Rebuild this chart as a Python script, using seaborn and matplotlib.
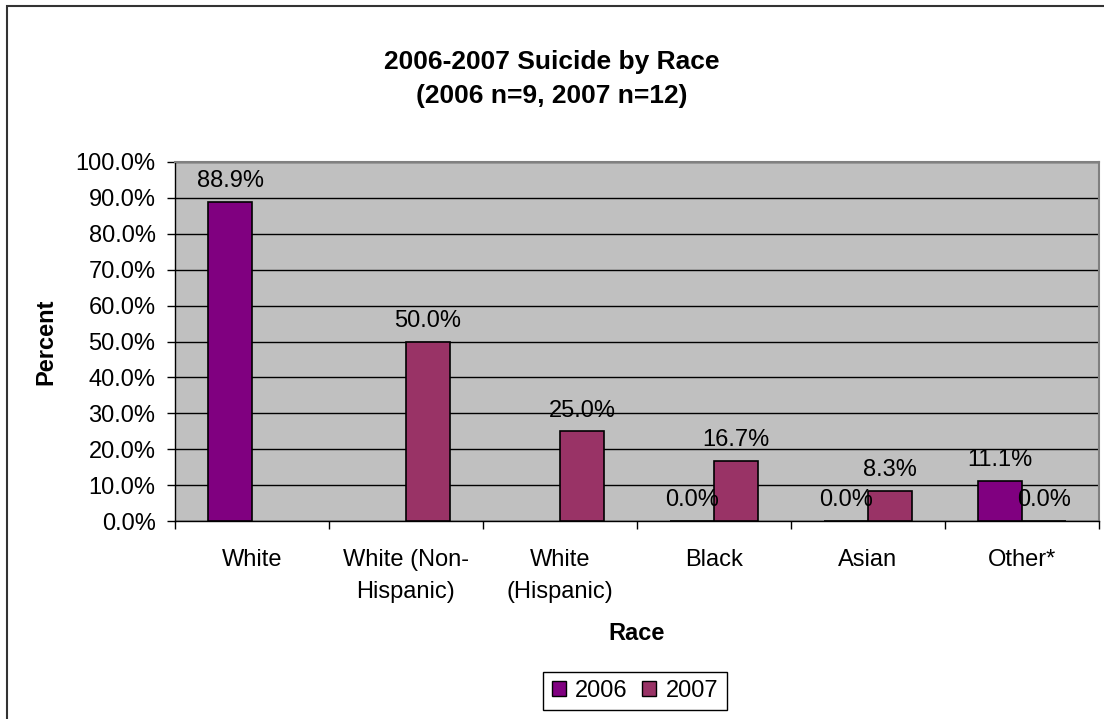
import matplotlib
matplotlib.use("Agg")
import matplotlib.pyplot as plt
import matplotlib.patches as mpatches
from matplotlib.ticker import FixedLocator, FuncFormatter
import seaborn as sns
import pandas as pd

races = ["White", "White (Non-\nHispanic)", "White\n(Hispanic)", "Black", "Asian", "Other*"]
years = ["2006", "2007"]
pct_2006 = [88.9, None, None, 0.0, 0.0, 11.1]
pct_2007 = [None, 50.0, 25.0, 16.7, 8.3, 0.0]
colors = ["#800080", "#993366"]

rows = []
for yr, vals in zip(years, [pct_2006, pct_2007]):
    for r, v in zip(races, vals):
        if v is not None:
            rows.append({"Race": r, "Year": yr, "Percent": v})
df = pd.DataFrame(rows)

sns.set_style("white")
plt.rcParams["font.family"] = ["Liberation Sans", "DejaVu Sans"]
plt.rcParams["text.color"] = "black"
plt.rcParams["axes.labelcolor"] = "black"
plt.rcParams["xtick.color"] = "black"
plt.rcParams["ytick.color"] = "black"

FS = 17
W, H = 1104, 719
fig = plt.figure(figsize=(W / 100, H / 100), dpi=100)
ax = fig.add_axes([175 / W, 1 - 521 / H, (1099 - 175) / W, (521 - 162) / H])

sns.barplot(data=df, x="Race", y="Percent", hue="Year", order=races, hue_order=years,
            palette=colors, saturation=1, width=0.571, edgecolor="black", linewidth=1.2,
            ax=ax, legend=False, zorder=3)

ax.set_facecolor("#C0C0C0")
ax.set_ylim(0, 100)
ax.set_xlim(-0.5, len(races) - 0.5)
ax.yaxis.set_major_locator(FixedLocator([i * 10 for i in range(11)]))
ax.yaxis.set_major_formatter(FuncFormatter(lambda v, p: f"{v:.1f}%"))
ax.grid(axis="y", color="black", linewidth=1, zorder=1)
ax.set_axisbelow(True)

for s in ["top", "right"]:
    ax.spines[s].set_color("#808080")
    ax.spines[s].set_linewidth(1.5)
for s in ["left", "bottom"]:
    ax.spines[s].set_color("black")
    ax.spines[s].set_linewidth(1)

ax.tick_params(axis="y", direction="out", length=6, width=1, color="black",
               labelsize=FS, labelcolor="black", pad=8, left=True)
ax.set_xticks(range(len(races)))
ax.set_xticklabels(races, fontsize=FS, linespacing=1.6, color="black")
ax.tick_params(axis="x", which="major", length=0, pad=20)
ax.xaxis.set_minor_locator(FixedLocator([i + 0.5 for i in range(-1, len(races))]))
ax.tick_params(axis="x", which="minor", direction="out", length=6, width=1,
               color="black", bottom=True)

for cont in ax.containers:
    ax.bar_label(cont, fmt="%.1f%%", padding=7, fontsize=FS, color="black")

ax.set_xlabel("Race", fontsize=FS, fontweight="bold", labelpad=14, color="black")
ax.set_ylabel("Percent", fontsize=FS, fontweight="bold", labelpad=13, color="black")
fig.text(552 / W, 1 - 79 / H, "2006-2007 Suicide by Race\n(2006 n=9, 2007 n=12)",
         fontsize=19, fontweight="bold", ha="center", va="center", linespacing=1.55,
         color="black")

handles = [mpatches.Patch(facecolor=c, edgecolor="black", label=y) for c, y in zip(colors, years)]
leg = fig.legend(handles=handles, loc="center", bbox_to_anchor=(635 / W, 1 - 691 / H),
                 ncol=2, fontsize=FS, frameon=True, fancybox=False, framealpha=1,
                 edgecolor="black", handlelength=0.6, handleheight=0.6,
                 handletextpad=0.4, columnspacing=0.6, borderpad=0.35, borderaxespad=0)
leg.get_frame().set_linewidth(1)

border = mpatches.Rectangle((7 / W, -0.01), 1.1, 1 - 6 / H + 0.01, transform=fig.transFigure,
                            fill=False, edgecolor="#333333", linewidth=1.5)
fig.patches.append(border)

fig.savefig("out.png", dpi=100, facecolor="white")
